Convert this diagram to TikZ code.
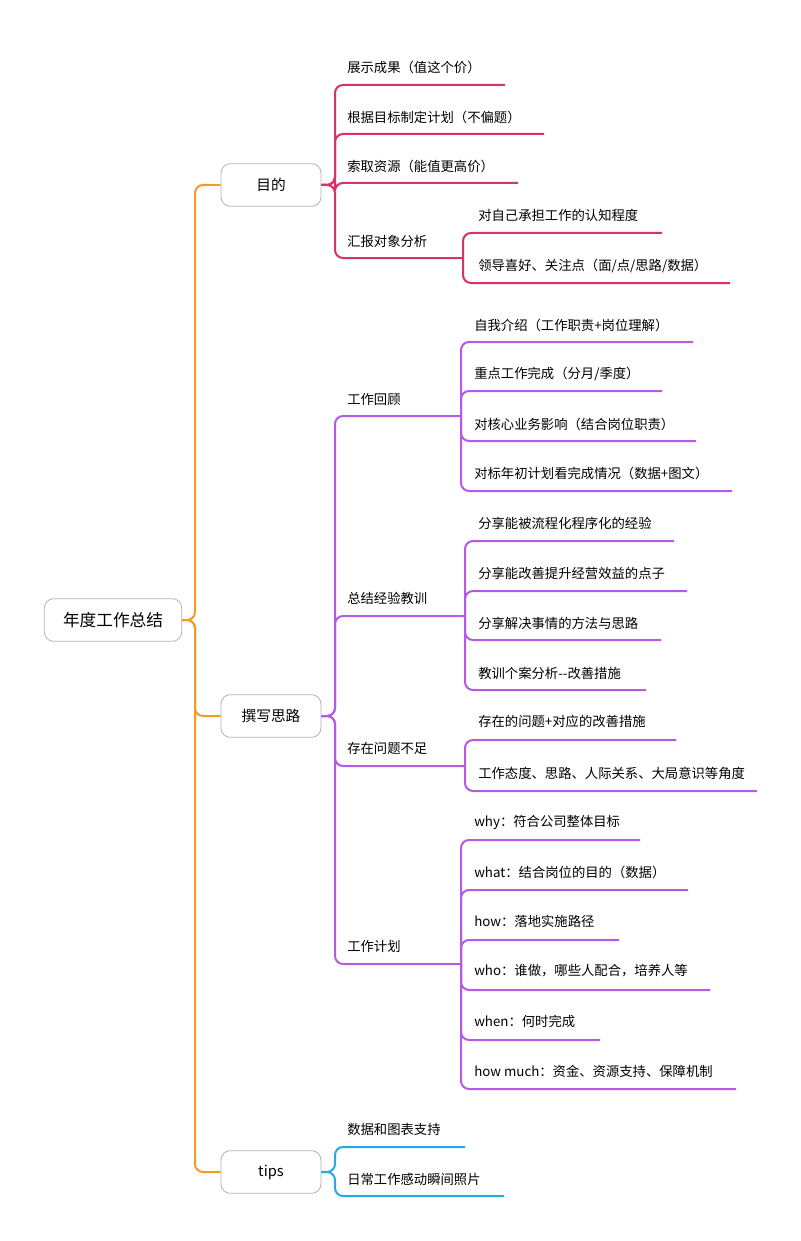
\documentclass[tikz,border=0pt]{standalone}
\usepackage{fontspec}
\setmainfont{Noto Sans CJK SC}
\begin{document}
\begin{tikzpicture}[x=0.75pt,y=-0.75pt,
  box/.style={draw=gray!60,rounded corners=7pt,line width=0.6pt,minimum height=32pt,font=\fontsize{11}{13}\selectfont},
  txt/.style={anchor=west,inner sep=0pt,font=\fontsize{10}{12}\selectfont},
  lnk/.style={line width=1.5pt,rounded corners=6pt}]
\useasboundingbox (0,0) rectangle (800,1241);
\definecolor{co}{HTML}{F39C1F}\definecolor{cr}{HTML}{D9316A}
\definecolor{cp}{HTML}{B45AE6}\definecolor{cb}{HTML}{26A9E8}
\newcommand\leaf[7]{% name, textx, texty, liney, xend, text, color
  \node[txt] (#1) at (#2,#3) {#6};
  \coordinate (#1-e) at (#5,#4);}
% root and main branches
\node[box,minimum width=103pt,font=\fontsize{12.5}{14}\selectfont] (root) at (113,620) {年度工作总结};
\node[box,minimum width=75pt] (mudi) at (271,185) {目的};
\node[box,minimum width=75pt] (zx) at (271,716) {撰写思路};
\node[box,minimum width=75pt] (tips) at (271,1172) {tips};
\draw[lnk,co] (root.east) -- (195,620) |- (mudi.west);
\draw[lnk,co] (root.east) -- (195,620) |- (zx.west);
\draw[lnk,co] (root.east) -- (195,620) |- (tips.west);
% 目的
\leaf{a1}{347}{67}{85}{505}{展示成果（值这个价）}{cr}
\leaf{a2}{347}{117}{134}{544}{根据目标制定计划（不偏题）}{cr}
\leaf{a3}{347}{166}{183}{518}{索取资源（能值更高价）}{cr}
\leaf{a4}{347}{241}{258}{463}{汇报对象分析}{cr}
\foreach \n in {a1,a2,a3,a4}{\draw[lnk,cr] (mudi.east) -- (335,185) |- (\n-e);}
\leaf{a41}{478}{215}{233}{662}{对自己承担工作的认知程度}{cr}
\leaf{a42}{478}{266}{283}{730}{领导喜好、关注点（面/点/思路/数据）}{cr}
\foreach \n in {a41,a42}{\draw[lnk,cr] (a4-e) |- (\n-e);}
% 撰写思路
\leaf{b1}{347}{399}{416}{461}{工作回顾}{cp}
\leaf{b2}{347}{598}{616}{465}{总结经验教训}{cp}
\leaf{b3}{347}{748}{766}{465}{存在问题不足}{cp}
\leaf{b4}{347}{946}{964}{461}{工作计划}{cp}
\foreach \n in {b1,b2,b3,b4}{\draw[lnk,cp] (zx.east) -- (335,716) |- (\n-e);}
\leaf{b11}{474}{325}{342}{693}{自我介绍（工作职责+岗位理解）}{cp}
\leaf{b12}{474}{374}{391}{662}{重点工作完成（分月/季度）}{cp}
\leaf{b13}{474}{424}{441}{696}{对核心业务影响（结合岗位职责）}{cp}
\leaf{b14}{474}{473}{491}{732}{对标年初计划看完成情况（数据+图文）}{cp}
\foreach \n in {b11,b12,b13,b14}{\draw[lnk,cp] (b1-e) |- (\n-e);}
\leaf{b21}{478}{523}{541}{674}{分享能被流程化程序化的经验}{cp}
\leaf{b22}{478}{573}{591}{687}{分享能改善提升经营效益的点子}{cp}
\leaf{b23}{478}{623}{640}{661}{分享解决事情的方法与思路}{cp}
\leaf{b24}{478}{673}{690}{646}{教训个案分析-{}-改善措施}{cp}
\foreach \n in {b21,b22,b23,b24}{\draw[lnk,cp] (b2-e) |- (\n-e);}
\leaf{b31}{478}{721}{740}{676}{存在的问题+对应的改善措施}{cp}
\leaf{b32}{478}{773}{791}{757}{工作态度、思路、人际关系、大局意识等角度}{cp}
\foreach \n in {b31,b32}{\draw[lnk,cp] (b3-e) |- (\n-e);}
\leaf{b41}{474}{822}{840}{640}{why：符合公司整体目标}{cp}
\leaf{b42}{474}{872}{890}{688}{what：结合岗位的目的（数据）}{cp}
\leaf{b43}{474}{921}{940}{619}{how：落地实施路径}{cp}
\leaf{b44}{474}{971}{990}{710}{who：谁做，哪些人配合，培养人等}{cp}
\leaf{b45}{474}{1021}{1040}{600}{when：何时完成}{cp}
\leaf{b46}{474}{1071}{1089}{736}{how much：资金、资源支持、保障机制}{cp}
\foreach \n in {b41,b42,b43,b44,b45,b46}{\draw[lnk,cp] (b4-e) |- (\n-e);}
% tips
\leaf{c1}{347}{1129}{1147}{465}{数据和图表支持}{cb}
\leaf{c2}{347}{1179}{1196}{504}{日常工作感动瞬间照片}{cb}
\foreach \n in {c1,c2}{\draw[lnk,cb] (tips.east) -- (335,1172) |- (\n-e);}
\end{tikzpicture}
\end{document}
